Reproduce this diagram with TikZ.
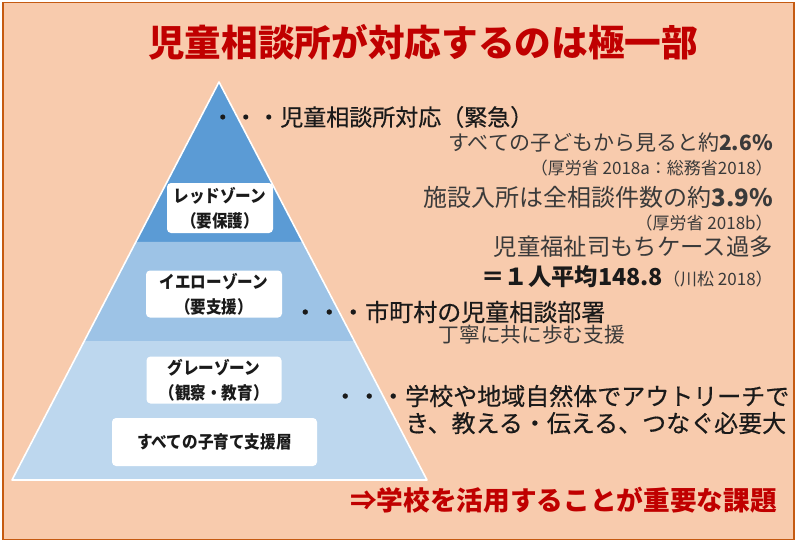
\documentclass[tikz,border=0pt]{standalone}
\usepackage{fontspec}
\setmainfont{Noto Sans CJK JP}
\newfontfamily\jpcond[FakeStretch=0.9]{Noto Sans CJK JP}
\newfontfamily\jpmedium[FakeBold=0.5]{Noto Sans CJK JP}
\usetikzlibrary{calc}

\definecolor{bgpeach}{HTML}{F8CBAD}
\definecolor{frameorange}{HTML}{C55A11}
\definecolor{titlered}{HTML}{C00000}
\definecolor{zonedark}{HTML}{5B9BD5}
\definecolor{zonemid}{HTML}{9DC3E6}
\definecolor{zonelight}{HTML}{BDD7EE}
\definecolor{textdark}{HTML}{1A1A1A}
\definecolor{subgray}{HTML}{3A3A3A}

\begin{document}
\begin{tikzpicture}[
    x=0.75pt, y=-0.75pt,
    zone/.style={fill=white, rounded corners=3pt, align=center, inner sep=0pt,
        text=textdark, font=\jpcond\bfseries\fontsize{13}{18.5}\selectfont},
    lead/.style={anchor=west, inner sep=0pt, text=textdark, font=\jpmedium\fontsize{18}{20.25}\selectfont},
    note/.style={anchor=east, inner sep=0pt, text=subgray, font=\fontsize{15.75}{18}\selectfont},
    cite/.style={anchor=east, inner sep=0pt, text=subgray, font=\fontsize{12.75}{15}\selectfont}
]

% Frame and background
\useasboundingbox (0,0) rectangle (800,543);
\fill[white] (0,0) rectangle (800,543);
\draw[frameorange, fill=bgpeach, line width=1pt] (3,2.5) rectangle (794,539.5);

% Title
\node[text=titlered, font=\bfseries\fontsize{27.5}{30}\selectfont] (title) at (423,42) {児童相談所が対応するのは極一部};

% Pyramid corners and band limits
\coordinate (apex) at (219,82);
\coordinate (baseL) at (12,480);
\coordinate (baseR) at (427,480);
\coordinate (redL) at ($(apex)!0.402!(baseL)$);
\coordinate (redR) at ($(apex)!0.402!(baseR)$);
\coordinate (yelL) at ($(apex)!0.651!(baseL)$);
\coordinate (yelR) at ($(apex)!0.651!(baseR)$);

% Pyramid bands
\fill[zonedark] (apex) -- (redL) -- (redR) -- cycle;
\fill[zonemid] (redL) -- (yelL) -- (yelR) -- (redR) -- cycle;
\fill[zonelight] (yelL) -- (baseL) -- (baseR) -- (yelR) -- cycle;
\draw[white, line width=1.2pt, line join=round] (apex) -- (baseL) -- (baseR) -- cycle;

% Zone labels
\node[zone, minimum width=79.5pt, minimum height=37.5pt] (red) at (220,208) {レッドゾーン\\（要保護）};
\node[zone, minimum width=102pt, minimum height=35.25pt] (yellow) at (214,294) {イエローゾーン\\（要支援）};
\node[zone, minimum width=101.25pt, minimum height=35.25pt] (gray) at (214,380) {グレーゾーン\\（観察・教育）};
\node[zone, minimum width=153.75pt, minimum height=36pt] (all) at (214.5,442) {すべての子育て支援層};

% Red zone notes
\node[lead, font=\jpmedium\fontsize{17.25}{20}\selectfont] (urgent) at (211,117) {・・・児童相談所対応（緊急）};
\node[note] (share) at (773,143) {すべての子どもから見ると約\textbf{2.6\%}};
\node[cite] (src1) at (773,168) {（厚労省 2018a：総務省2018）};
\node[note, font=\fontsize{18}{20}\selectfont] (intake) at (773,197) {施設入所は全相談件数の約\textbf{3.9\%}};
\node[cite] (src2) at (773,223) {（厚労省 2018b）};
\node[note, font=\fontsize{17.5}{20}\selectfont] (caseload) at (773,247) {児童福祉司もちケース過多};
\node[note, text=textdark, font=\fontsize{17.5}{20}\selectfont] (average) at (773,277)
    {\textbf{＝１人平均148.8}{\color{subgray}\fontsize{12.75}{15}\selectfont（川松 2018）}};

% Yellow zone notes
\node[lead] (city) at (293,312) {・・・市町村の児童相談部署};
\node[note, font=\fontsize{15.5}{18}\selectfont] (together) at (625,335) {丁寧に共に歩む支援};

% Gray zone notes
\node[lead, align=left] (school) at (333,409.5)
    {・・・学校や地域自然体でアウトリーチで\\\hphantom{・・・}き、教える・伝える、つなぐ必要大};

% Conclusion
\node[anchor=west, inner sep=0pt, text=titlered, font=\bfseries\fontsize{20}{22}\selectfont] (task) at (350,500) {⇒学校を活用することが重要な課題};

\end{tikzpicture}
\end{document}
